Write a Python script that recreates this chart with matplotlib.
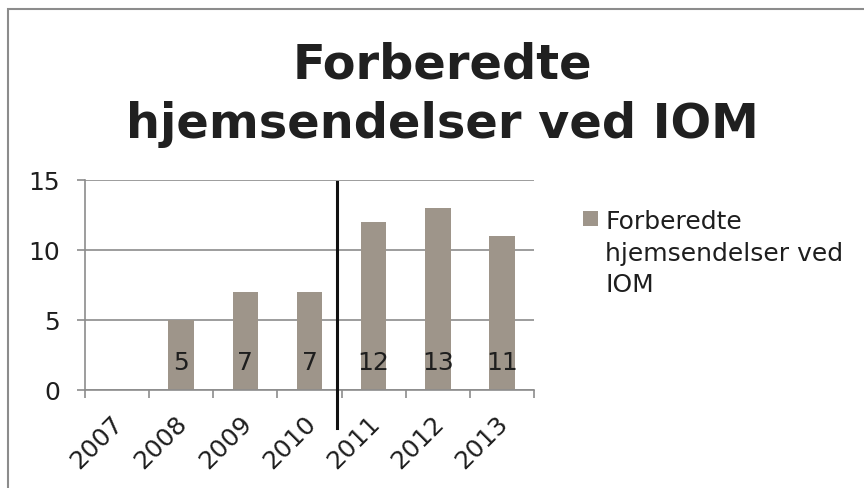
import matplotlib
matplotlib.use("Agg")
import matplotlib.pyplot as plt
from matplotlib.patches import Rectangle
import matplotlib.transforms as mtransforms

years = ["2007", "2008", "2009", "2010", "2011", "2012", "2013"]
values = [0, 5, 7, 7, 12, 13, 11]
labels = ["", "5", "7", "7", "12", "13", "11"]
series_name = "Forberedte\nhjemsendelser ved\nIOM"
title = "Forberedte\nhjemsendelser ved IOM"

bar_color = "#9E958A"
grid_color = "#8C8C8C"
text_color = "#1E1E1E"

W, H = 864, 489
fig = plt.figure(figsize=(W / 100, H / 100), dpi=100)
fig.patch.set_facecolor("white")

# outer border (only top and left visible)
fig.add_artist(Rectangle((8 / W, -0.2), 1.2, 1 - 10 / H + 0.2,
                         transform=fig.transFigure, fill=False,
                         edgecolor="#8C8C8C", lw=1.5))

ax = fig.add_axes([85 / W, 1 - 390.7 / H, 449 / W, 209.7 / H])
x = list(range(len(years)))
bars = ax.bar(x, values, width=0.4, color=bar_color, zorder=2)

ax.set_xlim(-0.5, len(years) - 0.5)
ax.set_ylim(0, 15)
ax.set_yticks([0, 5, 10, 15])
ax.yaxis.grid(True, color=grid_color, lw=1.2, zorder=0)
ax.set_axisbelow(True)

for s in ["top", "right"]:
    ax.spines[s].set_visible(False)
for s in ["left", "bottom"]:
    ax.spines[s].set_color(grid_color)
    ax.spines[s].set_linewidth(1.2)

# x ticks between categories
ax.set_xticks([i - 0.5 for i in range(len(years) + 1)], minor=False)
ax.set_xticklabels([])
ax.set_xticks(x, minor=True)
ax.set_xticklabels(years, minor=True, rotation=45, ha="right", va="top",
                   rotation_mode="anchor", fontsize=18, color=text_color)
ax.tick_params(axis="x", which="minor", length=0, pad=15)
ax.tick_params(axis="x", which="major", length=6, color=grid_color, width=1.2)
ax.tick_params(axis="y", length=6, color=grid_color, width=1.2, labelsize=18,
               labelcolor=text_color, pad=12)
shift = mtransforms.ScaledTranslation(-0.06, 0, fig.dpi_scale_trans)
for lab in ax.get_xticklabels(minor=True):
    lab.set_transform(lab.get_transform() + shift)

# data labels inside base
for xi, lab in zip(x, labels):
    if lab:
        ax.annotate(lab, xy=(xi, 0), xytext=(0, 20), textcoords="offset points",
                    ha="center", va="center", fontsize=18, color=text_color,
                    zorder=3)

# vertical separator line between 2010 and 2011
trans = mtransforms.blended_transform_factory(ax.transData, ax.transAxes)
ax.plot([3.436, 3.436], [-0.183, 0.99], transform=trans, color="#111111",
        lw=2.2, clip_on=False, zorder=4)

fig.text(442 / W, 1 - 138 / H, title, ha="center", va="baseline",
         fontsize=34.5, fontweight="bold", color="#202020",
         linespacing=1.35, multialignment="center")

# legend (manual, marker aligned with first text line)
fig.add_artist(Rectangle((582.7 / W, 1 - 226.7 / H), 15.6 / W, 15 / H,
                         transform=fig.transFigure, facecolor=bar_color,
                         edgecolor="none"))
fig.text(605 / W, 1 - 292 / H, series_name, ha="left", va="baseline",
         fontsize=18, color=text_color, linespacing=1.39)

fig.savefig("out.png", dpi=100, facecolor="white")
